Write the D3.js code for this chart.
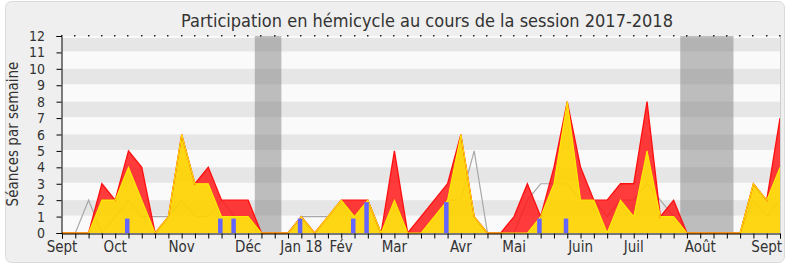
<!DOCTYPE html>
<html><head><meta charset="utf-8">
<script src="https://cdn.jsdelivr.net/npm/d3@7"></script>
<style>body{margin:0;background:#fff}svg{display:block}</style>
</head><body><svg id="c" width="790" height="267"></svg>
<script>
// ---- data (one value per week, session 2017-2018) ----
const weeks = d3.range(55);
const presences = [0,0,0,3,2,5,4,0,1,6,3,4,2,2,2,0,0,0,1,0,1,2,2,2,0,5,0,1,2,3,6,1,0,0,1,3,1,4,8,4,2,2,3,3,8,1,2,0,0,0,0,0,3,2,7];
const interventions = [0,0,0,2,2,4,2,0,1,6,3,3,1,1,1,0,0,0,1,0,1,2,1,2,0,2,0,0,1,2,6,1,0,0,0,0,1,3,8,2,2,0,2,1,5,1,1,0,0,0,0,0,3,2,4];
const mediane = [0,0,2,0,1,2,1,1,1,2,1,1,2,1,1,0,0,0,1,1,1,2,1,2,0,2,0,0,1,2,2,5,0,0,0,2,3,3,3,2,2,1,2,2,3,2,1,0,0,0,0,0,2,1,2];
const questions = [0,0,0,0,0,1,0,0,0,0,0,0,1,1,0,0,0,0,1,0,0,0,1,2,0,0,0,0,0,2,0,0,0,0,0,0,1,0,1,0,0,0,0,0,0,0,0,0,0,0,0,0,0,0,0];
const monthLabels = ["Sept","Oct","Nov","Déc","Jan 18","Fév","Mar","Avr","Mai","Juin","Juil","Août","Sept"];
const monthWeeks = [0,4,9,14,18,21,25,30,34,39,43,48,53];
const vacStart = [14.5, 46.5];
const vacEnd = [16.5, 50.5];
const yTicks = d3.range(0, 13);
const title = "Participation en hémicycle au cours de la session 2017-2018";
const yTitle = "Séances par semaine";

// ---- layout ----
const L = 62, R = 780, T = 36, B = 233;
const svg = d3.select("#c");
const x = d3.scaleLinear().domain([0, 54]).range([L, R]);
const y = d3.scaleLinear().domain([0, 12]).range([B, T]);
const font = "'DejaVu Sans Condensed','DejaVu Sans',sans-serif";

svg.append("rect").attr("width",790).attr("height",267).attr("fill","#fff");
svg.append("rect").attr("x",5.5).attr("y",1.5).attr("width",779).attr("height",261)
  .attr("rx",6).attr("fill","#efefef").attr("stroke","#dadada");

svg.append("text").attr("x",427).attr("y",27).attr("text-anchor","middle")
  .attr("font-family",font).attr("font-size",18).attr("fill","#333").text(title);

// plot background + stripes
svg.append("rect").attr("x",L).attr("y",T).attr("width",R-L).attr("height",B-T).attr("fill","#fafafa");
svg.append("g").selectAll("rect").data(yTicks.filter(d => d % 2 === 1))
  .join("rect").attr("x",L).attr("width",R-L)
  .attr("y",d => y(d+1) + (d===11?2:0)).attr("height",d => y(d)-y(d+1)-1 - (d===11?2:0))
  .attr("fill","#e6e6e6");

// vacation bands
svg.append("g").selectAll("rect").data(vacStart)
  .join("rect").attr("x",(d)=>x(d)).attr("width",(d,i)=>x(vacEnd[i])-x(d))
  .attr("y",T).attr("height",B-T).attr("fill","#808080").attr("opacity",0.5);

// median line (under areas)
const line = v => d3.line().x(d=>x(d)).y(d=>y(v[d]));
svg.append("path").attr("d", line(mediane)(weeks)).attr("fill","none")
  .attr("stroke","#a8a8a8").attr("stroke-width",1.2);

// red band between interventions and presences
const redArea = d3.area().x(d=>x(d)).y0(d=>y(interventions[d])).y1(d=>y(presences[d]));
svg.append("path").attr("d", redArea(weeks)).attr("fill","rgb(255,25,25)").attr("fill-opacity",0.85);
// yellow area
const yelArea = d3.area().x(d=>x(d)).y0(y(0)).y1(d=>y(interventions[d]));
svg.append("path").attr("d", yelArea(weeks)).attr("fill","rgb(255,210,0)").attr("fill-opacity",0.92);

svg.append("path").attr("d", line(presences)(weeks)).attr("fill","none")
  .attr("stroke","#ff1010").attr("stroke-width",1.3);
svg.append("path").attr("d", line(interventions)(weeks)).attr("fill","none")
  .attr("stroke","#ffea00").attr("stroke-width",1.1);

// question bars
svg.append("g").selectAll("rect").data(weeks.filter(d => questions[d] > 0))
  .join("rect").attr("x",d=>x(d)-3.5).attr("width",4.5)
  .attr("y",d=>y(questions[d])+2).attr("height",d=>y(0)-y(questions[d])-2)
  .attr("fill","#6464ff");

// right border
svg.append("line").attr("x1",R+0.5).attr("x2",R+0.5).attr("y1",T).attr("y2",B).attr("stroke","#cfcfcf");

// top dotted ticks
svg.append("g").selectAll("rect").data(weeks)
  .join("rect").attr("x",d=>Math.round(x(d))-1).attr("y",T-1).attr("width",1.5).attr("height",1.5).attr("fill","#222");

// x axis
const xAxis = d3.axisBottom(x).tickValues(weeks).tickSize(5).tickFormat("");
const gx = svg.append("g").attr("transform",`translate(0,${B+0.5})`).call(xAxis);
gx.select(".domain").attr("stroke","#000");
gx.selectAll(".tick line").attr("stroke","#000");
svg.append("g").selectAll("text").data(monthWeeks)
  .join("text").attr("x",d=>x(d)).attr("y",252).attr("text-anchor","middle")
  .attr("font-family",font).attr("font-size",15).attr("fill","#333")
  .text((d,i)=>monthLabels[i]);

// y axis
const yAxis = d3.axisLeft(y).tickValues(yTicks).tickSize(5).tickFormat("");
const gy = svg.append("g").attr("transform",`translate(${L-0.5},0)`).call(yAxis);
gy.select(".domain").attr("stroke","#000");
gy.selectAll(".tick line").attr("stroke","#000");
svg.append("g").selectAll("text").data(yTicks)
  .join("text").attr("x",45).attr("y",d=>y(d)+5).attr("text-anchor","end")
  .attr("font-family",font).attr("font-size",14).attr("fill","#333").text(d=>d);

svg.append("text").attr("transform","translate(18,134) rotate(-90)").attr("text-anchor","middle")
  .attr("font-family",font).attr("font-size",15).attr("fill","#333").text(yTitle);
</script></body></html>
